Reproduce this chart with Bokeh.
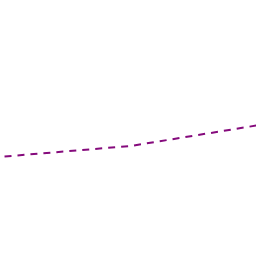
from bokeh.plotting import figure
from bokeh.models import Range1d
from bokeh.embed import file_html
from bokeh.resources import INLINE

xs = [0, 1, 2]
values = [100, 110.5, 131]

p = figure(width=256, height=256, output_backend="svg", toolbar_location=None,
           x_range=Range1d(-0.032, 2.0), y_range=Range1d(0, 256),
           min_border=0, min_border_left=0, min_border_right=0,
           min_border_top=0, min_border_bottom=0)
p.axis.visible = False
p.grid.visible = False
p.outline_line_color = None
p.background_fill_color = "white"
p.border_fill_color = "white"

p.line(xs, values, line_color="#850a7c", line_width=2, line_dash="7 6")

open("out.html", "w").write(file_html(p, INLINE))
